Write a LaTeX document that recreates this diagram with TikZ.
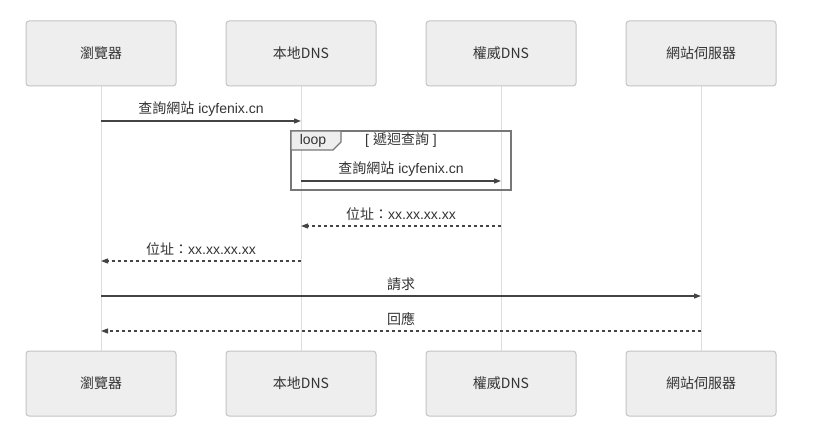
\documentclass[tikz,border=0pt]{standalone}
\usepackage{fontspec}
\setmainfont{Liberation Sans}
\newfontfamily\cjk{Noto Sans CJK TC}
\usetikzlibrary{arrows.meta,positioning}
\definecolor{actfill}{HTML}{EEEEEE}
\definecolor{actline}{HTML}{C4C4C4}
\definecolor{lifeline}{HTML}{DDDDDD}
\definecolor{msgline}{HTML}{444444}
\definecolor{loopline}{HTML}{777777}
\definecolor{txt}{HTML}{333333}

\begin{document}
\begin{tikzpicture}[x=1pt, y=-1pt, >={Triangle[length=7pt,width=5pt]},
  every node/.style={font=\fontsize{14}{16}\selectfont, text=txt},
  actor/.style={rounded corners=3pt, draw=actline, fill=actfill, line width=1pt, minimum width=150pt, minimum height=65pt},
  life/.style={draw=lifeline, line width=1pt},
  msg/.style={->, draw=msgline, line width=1.2pt},
  reply/.style={msg, dash pattern=on 3pt off 3pt},
  lbl/.style={midway, yshift=12pt}]
\useasboundingbox (0,0) rectangle (826,438);
% actors, top and bottom
\foreach \i/\x/\lab in {1/101/{\cjk 瀏覽器}, 2/301/{\cjk 本地DNS}, 3/501/{\cjk 權威DNS}, 4/701/{\cjk 網站伺服器}}{
  \node[actor] (t\i) at (\x,53.5) {\lab};
  \node[actor] (b\i) at (\x,383.5) {\lab};
  \draw[life] (t\i) -- (b\i);
}
% loop frame
\draw[loopline, line width=1.2pt] (291,131) rectangle (511,190);
\draw[loopline, line width=1.2pt, fill=actfill] (291,131) -- (341,131) -- (341,142) -- (333,150) -- (291,150) -- cycle;
\node (looptag) at (313,140.5) {loop};
\node (loopcond) at (401,140.5) {[ {\cjk 遞迴查詢} ]};
% messages
\draw[msg] (t1 |- 0,121) -- node[lbl] {{\cjk 查詢網站} icyfenix.cn} (t2 |- 0,121);
\draw[msg] (t2 |- 0,181) -- node[lbl] {{\cjk 查詢網站} icyfenix.cn} (t3 |- 0,181);
\draw[reply] (t3 |- 0,226) -- node[lbl] {{\cjk 位址：}xx.xx.xx.xx} (t2 |- 0,226);
\draw[reply] (t2 |- 0,261) -- node[lbl] {{\cjk 位址：}xx.xx.xx.xx} (t1 |- 0,261);
\draw[msg] (t1 |- 0,296) -- node[lbl] {\cjk 請求} (t4 |- 0,296);
\draw[reply] (t4 |- 0,331) -- node[lbl] {\cjk 回應} (t1 |- 0,331);
\end{tikzpicture}
\end{document}
